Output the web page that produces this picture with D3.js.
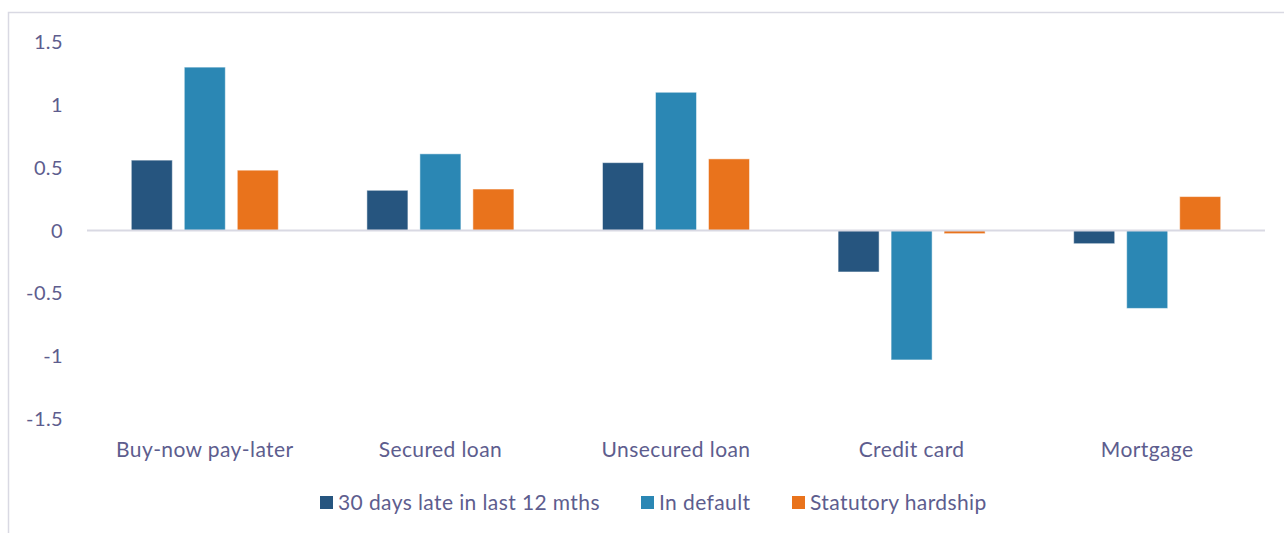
<!DOCTYPE html>
<html lang="en">
<head>
<meta charset="UTF-8">
<title>Credit outcomes by product</title>
<script src="https://d3js.org/d3.v7.min.js"></script>
<style>
  html, body { margin: 0; padding: 0; background: #fff; }
  svg text { font-family: Lato, "Open Sans", sans-serif; fill: #5d5d8e; letter-spacing: 0.4px; }
</style>
</head>
<body>
<div id="chart"></div>
<script>
// data
const categories = ["Buy-now pay-later", "Secured loan", "Unsecured loan", "Credit card", "Mortgage"];
const seriesNames = ["30 days late in last 12 mths", "In default", "Statutory hardship"];
const late30 = [0.56, 0.32, 0.54, -0.33, -0.105];
const inDefault = [1.30, 0.61, 1.10, -1.03, -0.62];
const hardship = [0.48, 0.33, 0.57, -0.025, 0.27];
const yTicks = [1.5, 1, 0.5, 0, -0.5, -1, -1.5];

const seriesValues = [late30, inDefault, hardship];
const colors = ["#26557f", "#2b87b4", "#e9731c"];

const W = 1284, H = 533;
const plot = {left: 87, right: 1265, top: 42, bottom: 419};

const svg = d3.select("#chart").append("svg")
  .attr("width", W).attr("height", H);

// outer frame (chart area border, partly off page)
svg.append("rect")
  .attr("x", 8.5).attr("y", 12.5)
  .attr("width", W + 20).attr("height", H + 20)
  .attr("fill", "none").attr("stroke", "#d9d9e3").attr("stroke-width", 1.5);

const x0 = d3.scaleBand()
  .domain(categories)
  .range([plot.left, plot.right])
  .paddingInner(0.376)
  .paddingOuter(0.188);

const x1 = d3.scaleBand()
  .domain(d3.range(seriesNames.length))
  .range([0, x0.bandwidth()])
  .paddingInner(0.226);

const y = d3.scaleLinear()
  .domain([-1.5, 1.5])
  .range([plot.bottom, plot.top]);

// y tick labels
svg.append("g")
  .selectAll("text")
  .data(yTicks)
  .join("text")
    .attr("x", 63)
    .attr("y", d => y(d))
    .attr("dy", "0.35em")
    .attr("text-anchor", "end")
    .style("font-size", "20px")
    .text(d => d);

// bars
const data = categories.map((c, i) => ({cat: c, vals: seriesValues.map(s => s[i])}));

svg.append("g")
  .selectAll("g")
  .data(data)
  .join("g")
    .attr("transform", d => `translate(${x0(d.cat)},0)`)
  .selectAll("rect")
  .data(d => d.vals.map((v, k) => ({k, v})))
  .join("rect")
    .attr("x", d => x1(d.k))
    .attr("y", d => y(Math.max(0, d.v)))
    .attr("width", x1.bandwidth())
    .attr("height", d => Math.abs(y(d.v) - y(0)))
    .attr("fill", d => colors[d.k])
    .attr("stroke", "#ffffff")
    .attr("stroke-opacity", 0.5)
    .attr("stroke-width", 1);

// zero line
svg.append("line")
  .attr("x1", plot.left).attr("x2", plot.right)
  .attr("y1", y(0)).attr("y2", y(0))
  .attr("stroke", "#d9d9e3").attr("stroke-width", 2);

// category labels
svg.append("g")
  .selectAll("text")
  .data(categories)
  .join("text")
    .attr("x", d => x0(d) + x0.bandwidth() / 2)
    .attr("y", 457)
    .attr("text-anchor", "middle")
    .style("font-size", "21px")
    .text(d => d);

// legend
const legendPos = [320, 641, 792];
const legend = svg.append("g")
  .selectAll("g")
  .data(seriesNames)
  .join("g")
    .attr("transform", (d, i) => `translate(${legendPos[i]},496)`);
legend.append("rect")
  .attr("width", 13).attr("height", 13)
  .attr("fill", (d, i) => colors[i]);
legend.append("text")
  .attr("x", 18).attr("y", 6.5)
  .attr("dy", "0.35em")
  .style("font-size", "21px")
  .text(d => d);
</script>
</body>
</html>
